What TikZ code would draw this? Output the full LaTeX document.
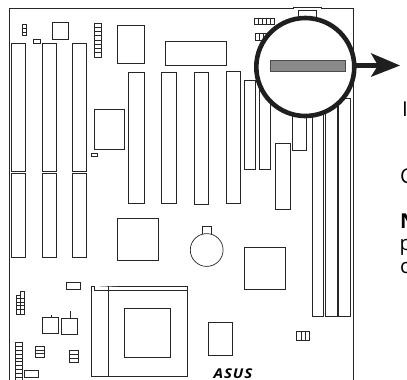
\documentclass[tikz,border=0pt]{standalone}
\usepackage{fontspec}
\setmainfont{Open Sans}
\definecolor{barfill}{HTML}{8A8A8A}
\tikzset{
 part/.style={draw=black!85,line width=0.75pt,fill=white},
 lens/.style={draw=black!88,line width=4.6pt},
 cut/.style={font=\fontsize{20.5}{20.5}\selectfont,anchor=base west,inner sep=0pt},
 cutbold/.style={font=\fontsize{20.5}{20.5}\selectfont\bfseries,anchor=base west,inner sep=0pt},
 logo/.style={font=\fontsize{13.5}{13.5}\selectfont\bfseries\itshape,inner sep=0pt},
}
\newcommand{\bx}[5][]{\draw[part,#1] (#2,#3) rectangle (#4,#5);}
\newcommand{\hbars}[5]{% x0 y0 x1 y1 n : horizontal dividers
 \draw[part] (#1,#2) rectangle (#3,#4);
 \foreach \k in {1,...,#5}{\draw[line width=0.6pt,black!85] (#1,{#2+(#4-#2)*\k/(#5+1)}) -- (#3,{#2+(#4-#2)*\k/(#5+1)});}}
\newcommand{\vbars}[5]{%
 \draw[part] (#1,#2) rectangle (#3,#4);
 \foreach \k in {1,...,#5}{\draw[line width=0.6pt,black!85] ({#1+(#3-#1)*\k/(#5+1)},#2) -- ({#1+(#3-#1)*\k/(#5+1)},#4);}}
\begin{document}
\begin{tikzpicture}[x=1pt,y=-1pt]
\useasboundingbox (0,0) rectangle (407,380);
% board
\draw[part,line width=0.8pt] (9,381) -- (9,8) -- (293,8) -- (293,7) -- (321,7) -- (321,8) -- (353.3,8) -- (353.3,381);
\bx{298}{10}{316}{20}
% ISA slots
\foreach \a/\b in {11.5/25.5,42.3/56,72.7/86.3}{
 \bx{\a}{43.3}{\b}{171.7}
 \bx{\a}{173}{\b}{257}
}
% top-left parts
\hbars{22.3}{24.5}{26}{35.5}{2}
\bx{33.5}{39}{40.7}{43.3}
\bx{52.3}{22.7}{68.5}{39}
\hbars{94.5}{23}{101}{57}{7}
\bx{117}{25.5}{144}{63}
\bx{94.5}{109}{124.3}{149.5}
\bx{91.3}{153.3}{97}{156}
% PCI slots
\bx{128.5}{72}{144}{203.5}
\bx{161}{72}{176.7}{203.5}
\bx{194.3}{72}{208}{204}
\bx{226}{71}{240.5}{203}
\bx{165}{41.5}{226.5}{65.5}
\bx{244.5}{80}{255.7}{169}
\bx{259}{72}{270}{169}
\bx{292.7}{100}{306}{150}
\bx{275}{143.5}{290.7}{209}
% DIMM slots
\bx{312.7}{95}{323.5}{316.7}
\bx{325.5}{95}{337}{316.7}
\bx{338.5}{98}{350}{316.5}
% top connectors
\vbars{254.3}{18.7}{274}{24.7}{4}
\vbars{255}{33.3}{275}{40}{4}
% lower middle
\bx{117}{218.3}{158.3}{260.7}
\bx{202}{226}{211}{234}
\draw[part,line width=0.7pt] (206.7,250) circle (16.4);
\bx{244.5}{247.5}{285.6}{289.5}
\bx{208.5}{322.7}{232.5}{355}
\vbars{296.7}{331.7}{309}{340}{2}
\node[logo,xscale=1.12,transform shape] (asus) at (233,373.3) {\addfontfeatures{LetterSpace=6}ASUS};
% CPU socket
\bx{91.5}{286}{187.4}{376}
\draw[part,line width=0.9pt] (94.5,286) -- (94.5,290) -- (187.4,290);
\draw[part] (108.6,286) -- (108.6,376);
\bx{124.5}{308}{170.6}{357.5}
% lower left
\bx[line width=0.9pt]{66}{282.4}{80}{289.3}
\draw[part] (16,295) -- (20.5,295) -- (20.5,291.7) -- (24.6,291.7) -- (24.6,314) -- (16,314) -- cycle;
\foreach \k in {298.5,302,305.5,309.5}{\draw[line width=0.6pt,black!85] (16,\k) -- (24.6,\k);}
\draw[line width=0.6pt,black!85] (20.5,295) -- (20.5,314);
\bx{42.5}{317}{58.7}{333}
\draw[part] (51.3,317) -- (51.3,315);
\bx{61.5}{318.5}{77.5}{334.7}
\draw[part] (70,318.5) -- (70,311);
\hbars{15.5}{342.5}{22.5}{381}{9}
\hbars{35.5}{346}{44.5}{357.5}{2}
\hbars{69.5}{350.5}{78.5}{362}{2}
\bx[line width=0.9pt]{24.7}{370.5}{38.5}{377.7}
% magnifier
\fill[white] (305.3,67) circle (49);
\draw[lens] (305.3,67) circle (49) coordinate (lenscentre);
\draw[draw=black!70,fill=barfill,line width=0.8pt] (270.5,60.5) rectangle (345,71);
\coordinate (tip) at (400,65.5);
\coordinate (start) at (356,65.5);
\draw[line width=4.4pt,black!88] (start) -- (380,65.5);
\fill[black!88] (tip) -- (370.7,53) -- (378,65.5) -- (370.7,77) -- cycle;
% clipped text at the page edge
\node[cut] (t1) at (402,116) {I};
\node[cut] (t2) at (400,183) {C};
\node[cutbold] (t3) at (400,228) {N};
\node[cut] (t4) at (399.5,250) {p};
\node[cut] (t5) at (400,273) {c};
\end{tikzpicture}
\end{document}
